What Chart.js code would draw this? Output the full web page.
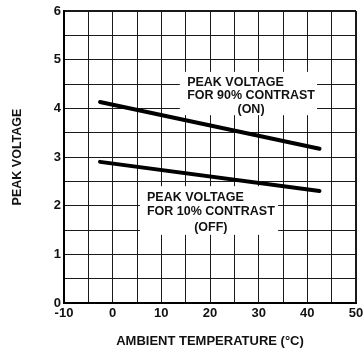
<!DOCTYPE html>
<html>
<head>
<meta charset="utf-8">
<script src="https://cdn.jsdelivr.net/npm/chart.js@4/dist/chart.umd.min.js"></script>
<style>
  html, body { margin: 0; padding: 0; background: #fff; }
  canvas { display: block; }
</style>
</head>
<body>
<canvas id="grafTensao" width="363" height="351"></canvas>
<script>
// ------------------------------------------------------
// 1. Dados
// ------------------------------------------------------
const temperaturas = [-2.6, 42.5];
const tensaoOn = [4.13, 3.17];
const tensaoOff = [2.9, 2.3];

const rotuloOn = ["PEAK VOLTAGE", "FOR 90% CONTRAST", "(ON)"];
const rotuloOff = ["PEAK VOLTAGE", "FOR 10% CONTRAST", "(OFF)"];

const FONTE = "'Liberation Sans', Arial, Helvetica, sans-serif";

// caixas dos rótulos, em unidades dos eixos (x = °C, y = V)
const caixas = [
  { linhas: rotuloOn, x0: 13.8, x1: 42.0, y0: 4.75, y1: 3.86, tx: 15.3, ty: [4.52, 4.27, 3.97] },
  { linhas: rotuloOff, x0: 5.6, x1: 34.0, y0: 2.40, y1: 1.40, tx: 7.05, ty: [2.16, 1.87, 1.56] }
];

function pontos(xs, ys) {
  return xs.map((x, i) => ({ x, y: ys[i] }));
}

// ------------------------------------------------------
// 2. Plugin: caixas brancas com texto
// ------------------------------------------------------
const pluginRotulos = {
  id: "rotulos",
  beforeDatasetsDraw(chart) {
    const { ctx, scales: { x, y } } = chart;
    ctx.save();
    caixas.forEach(c => {
      const left = x.getPixelForValue(c.x0);
      const right = x.getPixelForValue(c.x1);
      const top = y.getPixelForValue(c.y0);
      const bottom = y.getPixelForValue(c.y1);
      ctx.fillStyle = "#fff";
      ctx.fillRect(left, top, right - left, bottom - top);

      ctx.fillStyle = "#111";
      ctx.font = "bold 12.5px " + FONTE;
      ctx.textBaseline = "middle";
      const tx = x.getPixelForValue(c.tx);
      const larg2 = ctx.measureText(c.linhas[1]).width;
      c.linhas.forEach((txt, i) => {
        const ty = y.getPixelForValue(c.ty[i]);
        if (i < 2) {
          ctx.textAlign = "left";
          ctx.fillText(txt, tx, ty);
        } else {
          ctx.textAlign = "center";
          ctx.fillText(txt, tx + larg2 / 2, ty);
        }
      });
    });
    ctx.restore();
  }
};

// ------------------------------------------------------
// 3. Gráfico
// ------------------------------------------------------
new Chart(document.getElementById("grafTensao"), {
  type: "line",
  data: {
    datasets: [
      {
        label: "90% contrast (ON)",
        data: pontos(temperaturas, tensaoOn),
        borderColor: "#000",
        borderWidth: 4,
        pointRadius: 0,
        borderCapStyle: "round"
      },
      {
        label: "10% contrast (OFF)",
        data: pontos(temperaturas, tensaoOff),
        borderColor: "#000",
        borderWidth: 4,
        pointRadius: 0,
        borderCapStyle: "round"
      }
    ]
  },
  options: {
    responsive: false,
    animation: false,
    devicePixelRatio: 1,
    layout: { padding: { top: 11, right: 7, left: 0, bottom: 0 } },
    plugins: {
      legend: { display: false },
      tooltip: { enabled: false }
    },
    scales: {
      x: {
        type: "linear",
        min: -10,
        max: 50,
        afterFit: s => { s.height = 48; s.paddingLeft = 0; s.paddingRight = 0; },
        ticks: {
          stepSize: 5,
          autoSkip: false,
          maxRotation: 0,
          padding: 3,
          color: "#111",
          font: { family: FONTE, size: 13, weight: "bold" },
          callback: v => (v % 10 === 0 ? String(v) : "")
        },
        grid: {
          color: "#1a1a1a",
          lineWidth: c => (c.tick && c.tick.value === 50 ? 2 : 1),
          drawTicks: false
        },
        border: { display: true, color: "#000", width: 2 },
        title: {
          display: true,
          text: "AMBIENT TEMPERATURE (°C)",
          color: "#111",
          font: { family: FONTE, size: 13, weight: "bold" },
          padding: { top: 4, bottom: 2 }
        }
      },
      y: {
        min: 0,
        max: 6,
        afterFit: s => { s.width = 64; s.paddingTop = 0; s.paddingBottom = 0; },
        ticks: {
          stepSize: 0.5,
          autoSkip: false,
          padding: 3,
          color: "#111",
          font: { family: FONTE, size: 13, weight: "bold" },
          callback: v => (Number.isInteger(v) ? String(v) : "")
        },
        grid: {
          color: "#1a1a1a",
          lineWidth: c => (c.tick && c.tick.value === 6 ? 2 : 1),
          drawTicks: false
        },
        border: { display: true, color: "#000", width: 2 },
        title: {
          display: true,
          text: "PEAK VOLTAGE",
          color: "#111",
          font: { family: FONTE, size: 12.5, weight: "bold" },
          padding: { top: 10, bottom: 0 }
        }
      }
    }
  },
  plugins: [pluginRotulos]
});
</script>
</body>
</html>
